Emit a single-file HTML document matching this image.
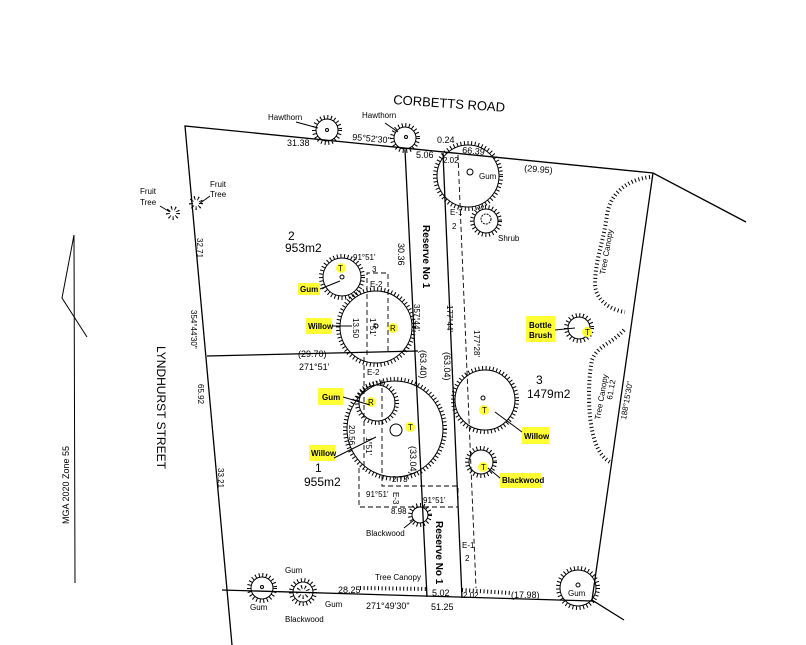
<!DOCTYPE html>
<html><head><meta charset="utf-8"><style>
html,body{margin:0;padding:0;background:#fff;}
svg{display:block;}
text{font-family:"Liberation Sans",sans-serif;fill:#000;}
.c{fill:none;stroke:#000;stroke-width:1}
.h{fill:none;stroke:#000;stroke-width:4;stroke-dasharray:1 2.6}
.b{fill:none;stroke:#000;stroke-width:1.3}
.d{fill:none;stroke:#000;stroke-width:0.9;stroke-dasharray:5 3}
.y{fill:#ffff33}
.s{font-size:8px}
.m{font-size:9px}
</style></head><body>
<svg width="806" height="645" viewBox="0 0 806 645" xmlns="http://www.w3.org/2000/svg">
<!-- boundaries -->
<polyline class="b" points="232,645 185,126 653,173 746,222"/>
<polyline class="b" points="653,173 592,600 624,620"/>
<line class="b" x1="222" y1="590" x2="592" y2="601"/>
<line class="b" x1="207" y1="356" x2="418" y2="351"/>
<line class="b" x1="405" y1="150" x2="427" y2="597"/>
<line class="b" x1="443" y1="153" x2="462" y2="598"/>
<line class="d" x1="458" y1="155" x2="476" y2="588"/>
<!-- north arrow -->
<line class="c" x1="74" y1="235" x2="75" y2="583"/>
<polyline class="c" points="74,235 62,298 87,337"/>
<!-- dashed easements -->
<polyline class="d" points="367,355 367,273 388,273 388,353"/>
<polyline class="d" points="364,357 364,470"/>
<polyline class="d" points="382,380 382,486 458,486 458,507 359,507 359,468"/>
<!-- trees -->
<g>
<circle class="c" cx="327" cy="130" r="11"/><circle class="h" cx="327" cy="130" r="13"/><circle class="c" cx="327" cy="130" r="1.5"/>
<circle class="c" cx="405" cy="138" r="11"/><circle class="h" cx="405" cy="138" r="13"/><circle class="c" cx="406" cy="137" r="1.5"/>
<circle class="c" cx="468" cy="176" r="31"/><circle class="h" cx="468" cy="176" r="33"/><circle class="c" cx="470" cy="172" r="3"/>
<circle class="c" cx="486" cy="221" r="12"/><circle class="h" cx="486" cy="221" r="14"/><circle class="c" cx="486" cy="219" r="5" stroke-dasharray="2 1"/>
<circle class="h" cx="173" cy="213" r="5"/><circle class="h" cx="196" cy="203" r="5"/>
<circle class="c" cx="342" cy="277" r="19"/><circle class="h" cx="342" cy="277" r="21"/><circle class="c" cx="342" cy="277" r="2"/>
<circle class="c" cx="376" cy="327" r="36"/><circle class="h" cx="376" cy="327" r="38"/><circle class="c" cx="376" cy="326" r="2"/>
<circle class="c" cx="377" cy="403" r="18"/><circle class="h" cx="377" cy="403" r="20"/>
<circle class="c" cx="395" cy="429" r="48"/><circle class="h" cx="395" cy="429" r="50"/><circle class="c" cx="396" cy="430" r="6"/>
<circle class="c" cx="485" cy="400" r="30"/><circle class="h" cx="485" cy="400" r="32"/><circle class="c" cx="483" cy="398" r="2"/>
<circle class="c" cx="481" cy="462" r="12"/><circle class="h" cx="481" cy="462" r="14"/>
<circle class="c" cx="420" cy="515" r="8"/><circle class="h" cx="420" cy="515" r="10"/>
<circle class="c" cx="262" cy="588" r="11"/><circle class="h" cx="262" cy="588" r="13"/><circle class="c" cx="262" cy="587" r="1.5"/>
<circle class="c" cx="303" cy="592" r="10"/><circle class="h" cx="303" cy="592" r="12"/><circle class="h" cx="303" cy="592" r="5"/>
<circle class="c" cx="578" cy="588" r="18"/><circle class="h" cx="578" cy="588" r="20"/><circle class="c" cx="578" cy="585" r="2"/>
<circle class="c" cx="579" cy="328" r="11"/><circle class="h" cx="579" cy="328" r="13"/>
<path class="h" d="M650,177 C625,180 610,195 607,215 C604,240 595,260 595,285 C596,300 610,310 625,312"/>
<path class="h" d="M624,330 C610,345 598,345 592,360 C588,380 588,410 592,430 C596,450 603,458 610,462"/>
<path class="h" d="M360,588 L428,589"/>
<path class="h" d="M462,590 L511,593"/>
</g>
<!-- yellow markers -->
<circle class="y" cx="341" cy="268" r="5"/><text class="s" x="338" y="271">T</text>
<circle class="y" cx="393" cy="328" r="5"/><text class="s" x="390" y="331">R</text>
<circle class="y" cx="371" cy="402" r="5"/><text class="s" x="368" y="405">R</text>
<circle class="y" cx="410" cy="427" r="5"/><text class="s" x="408" y="430">T</text>
<circle class="y" cx="484" cy="410" r="5"/><text class="s" x="482" y="413">T</text>
<circle class="y" cx="483" cy="467" r="5"/><text class="s" x="481" y="470">T</text>
<circle class="y" cx="587" cy="332" r="5"/><text class="s" x="585" y="335">T</text>
<!-- yellow labels -->
<rect class="y" x="298" y="283" width="22" height="12"/><text class="s" x="300" y="292" font-weight="bold">Gum</text>
<rect class="y" x="306" y="318" width="26" height="16"/><text class="s" x="308" y="329" font-weight="bold">Willow</text>
<rect class="y" x="526" y="316" width="29" height="26"/><text class="s" x="529" y="328" font-weight="bold">Bottle</text><text class="s" x="529" y="338" font-weight="bold">Brush</text>
<rect class="y" x="318" y="388" width="25" height="17"/><text class="s" x="322" y="400" font-weight="bold">Gum</text>
<rect class="y" x="309" y="445" width="26" height="16"/><text class="s" x="311" y="456" font-weight="bold">Willow</text>
<rect class="y" x="522" y="427" width="27" height="17"/><text class="s" x="524" y="439" font-weight="bold">Willow</text>
<rect class="y" x="500" y="473" width="41" height="15"/><text class="s" x="502" y="483" font-weight="bold">Blackwood</text>
<!-- leader lines -->
<g class="c">
<line x1="320" y1="289" x2="340" y2="281"/><line x1="332" y1="326" x2="352" y2="326"/>
<line x1="555" y1="330" x2="575" y2="328"/><line x1="343" y1="397" x2="370" y2="405"/>
<line x1="334" y1="458" x2="376" y2="437"/><line x1="522" y1="432" x2="495" y2="412"/>
<line x1="500" y1="478" x2="488" y2="468"/><line x1="296" y1="122" x2="318" y2="128"/>
<line x1="385" y1="123" x2="398" y2="132"/><line x1="210" y1="196" x2="199" y2="204"/>
<line x1="160" y1="206" x2="170" y2="212"/><line x1="404" y1="528" x2="414" y2="520"/>
</g>
<!-- text -->
<text x="393" y="104" font-size="13" transform="rotate(4 393 104)">CORBETTS ROAD</text>
<text class="s" x="268" y="120">Hawthorn</text>
<text class="s" x="362" y="118">Hawthorn</text>
<text class="m" x="287" y="146">31.38</text>
<text class="m" x="352" y="140" transform="rotate(5 352 140)">95°52'30"</text>
<text class="m" x="437" y="143">0.24</text>
<text class="m" x="462" y="153" transform="rotate(5 462 153)">66.39</text>
<text class="m" x="416" y="158">5.06</text>
<text class="s" x="443" y="163">2.02</text>
<text class="s" x="479" y="179">Gum</text>
<text class="m" x="524" y="171" transform="rotate(5 524 171)">(29.95)</text>
<text class="s" x="450" y="215">E-1</text><text class="s" x="452" y="229">2</text>
<text class="s" x="498" y="241">Shrub</text>
<text class="s" x="210" y="187">Fruit</text><text class="s" x="210" y="197">Tree</text>
<text class="s" x="140" y="194">Fruit</text><text class="s" x="140" y="205">Tree</text>
<text x="288" y="240" font-size="12">2</text>
<text x="285" y="252" font-size="12">953m2</text>
<text class="s" x="353" y="260">91°51'</text><text class="s" x="372" y="272">3</text>
<text class="s" x="370" y="287">E-2</text>
<text x="423" y="225" font-size="10" font-weight="bold" transform="rotate(90 423 225)">Reserve No 1</text>
<text class="m" x="398" y="243" transform="rotate(90 398 243)">30.36</text>
<text class="s" x="414" y="304" transform="rotate(90 414 304)">357°44'</text>
<text class="s" x="447" y="305" transform="rotate(90 447 305)">177°44'</text>
<text class="s" x="474" y="330" transform="rotate(90 474 330)">177°28'</text>
<text class="s" x="353" y="318" transform="rotate(90 353 318)">13.50</text>
<text class="s" x="370" y="318" transform="rotate(90 370 318)">1°51'</text>
<text class="m" x="298" y="357">(29.70)</text>
<text class="m" x="299" y="370">271°51'</text>
<text class="s" x="367" y="375">E-2</text>
<text class="m" x="420" y="350" transform="rotate(90 420 350)">(63.40)</text>
<text class="m" x="444" y="352" transform="rotate(90 444 352)">(63.04)</text>
<text x="536" y="384" font-size="12">3</text>
<text x="527" y="398" font-size="12">1479m2</text>
<text class="s" x="349" y="425" transform="rotate(90 349 425)">20.56</text>
<text class="s" x="366" y="437" transform="rotate(90 366 437)">1°51'</text>
<text class="m" x="410" y="446" transform="rotate(90 410 446)">(33.04)</text>
<text x="315" y="472" font-size="12">1</text>
<text x="304" y="486" font-size="12">955m2</text>
<text class="s" x="392" y="482">2.73</text>
<text class="s" x="366" y="497">91°51'</text>
<text class="s" x="423" y="503">91°51'</text>
<text class="s" x="393" y="492" transform="rotate(90 393 492)">E-3</text>
<text class="s" x="391" y="514">8.98</text>
<text class="s" x="366" y="536">Blackwood</text>
<text x="436" y="521" font-size="10" font-weight="bold" transform="rotate(90 436 521)">Reserve No 1</text>
<text class="s" x="462" y="548">E-1</text><text class="s" x="465" y="561">2</text>
<text class="s" x="375" y="580">Tree Canopy</text>
<text class="s" x="285" y="573">Gum</text>
<text class="m" x="338" y="593">28.25</text>
<text class="m" x="432" y="596">5.02</text>
<text class="s" x="463" y="598">2.02</text>
<text class="m" x="511" y="598">(17.98)</text>
<text class="s" x="568" y="596">Gum</text>
<text class="s" x="250" y="610">Gum</text>
<text class="s" x="325" y="607">Gum</text>
<text class="s" x="285" y="622">Blackwood</text>
<text class="m" x="366" y="609">271°49'30"</text>
<text class="m" x="431" y="610">51.25</text>
<text class="s" x="605" y="275" transform="rotate(-80 605 275)">Tree Canopy</text>
<text class="s" x="600" y="420" transform="rotate(-80 600 420)">Tree Canopy</text>
<text class="s" x="612" y="400" transform="rotate(-80 612 400)">61.12</text>
<text class="s" x="626" y="420" transform="rotate(-80 626 420)">188°15'30"</text>
<text class="s" x="197" y="238" transform="rotate(90 197 238)">32.71</text>
<text class="s" x="191" y="310" transform="rotate(90 191 310)">354°44'30"</text>
<text class="s" x="198" y="384" transform="rotate(90 198 384)">65.92</text>
<text class="s" x="218" y="468" transform="rotate(90 218 468)">33.21</text>
<text x="157" y="346" font-size="12" transform="rotate(90 157 346)">LYNDHURST STREET</text>
<text class="m" x="69" y="524" transform="rotate(-90 69 524)">MGA 2020 Zone 55</text>
</svg>
</body></html>
